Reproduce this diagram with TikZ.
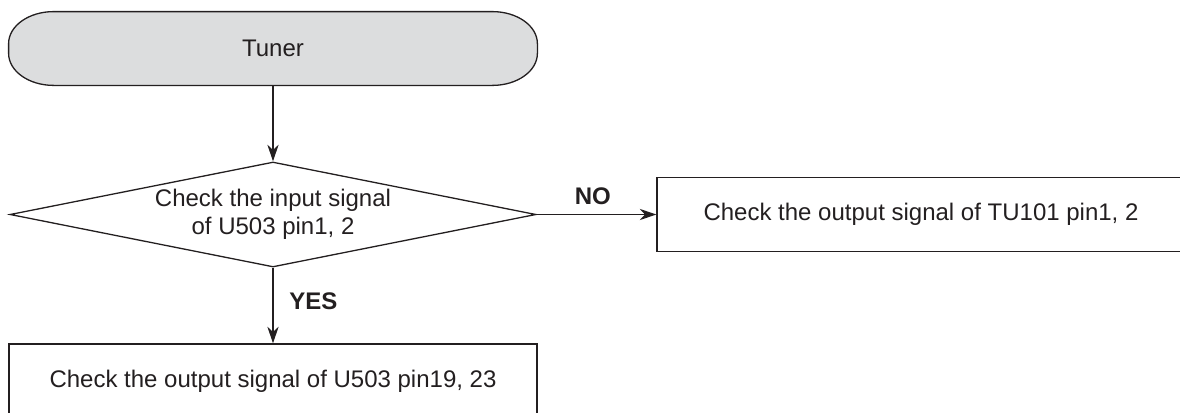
\documentclass[tikz,border=0pt]{standalone}
\usepackage{fontspec}
\setmainfont{Liberation Sans}
\usetikzlibrary{arrows.meta,shapes.geometric,calc,backgrounds}
\definecolor{inkgray}{HTML}{231F20}
\definecolor{capfill}{HTML}{DCDDDE}
\begin{document}
\begin{tikzpicture}[x=0.5pt,y=-0.5pt,
  every node/.style={font=\fontsize{12pt}{14pt}\selectfont, text=inkgray},
  flowline/.style={draw=inkgray, line width=0.65pt},
  flowarrow/.style={flowline, -{Stealth[length=8.3pt,width=5.6pt,inset=2.6pt]}},
  checkbox/.style={flowline, rectangle, minimum width=264pt, minimum height=37pt, inner sep=0pt},
  decision/.style={flowline, diamond, aspect=5, minimum width=263pt, minimum height=52.5pt, inner sep=0pt, align=center},
  answer/.style={font=\fontsize{12pt}{14pt}\selectfont\bfseries}]
\useasboundingbox (0,0) rectangle (1180,413);
\clip (0,0) rectangle (1180,413);

% start terminal: capsule with elliptical ends
\node[minimum width=264pt, minimum height=36.5pt, inner sep=0pt] (tuner) at (273,48.5) {Tuner};
\begin{scope}[on background layer]
  \draw[flowline, fill=capfill]
    ($(tuner.north west)+(45,0)$) -- ($(tuner.north east)+(-45,0)$)
    arc[start angle=90, end angle=0, x radius=22.5pt, y radius=16pt]
    -- ($(tuner.south east)+(0,-32)$)
    arc[start angle=0, end angle=-90, x radius=22.5pt, y radius=16pt]
    -- ($(tuner.south west)+(45,0)$)
    arc[start angle=270, end angle=180, x radius=22.5pt, y radius=16pt]
    -- ($(tuner.north west)+(0,32)$)
    arc[start angle=180, end angle=90, x radius=22.5pt, y radius=16pt]
    -- cycle;
\end{scope}

% decision and the two check steps
\node[decision] (check) at (273,214.5) {Check the input signal\\of U503 pin1, 2};
\node[checkbox] (tu) at (921,214.5) {Check the output signal of TU101 pin1, 2};
\node[checkbox] (out) at (273,381) {Check the output signal of U503 pin19, 23};

% connectors
\draw[flowarrow] (tuner.south) -- (check.north);
\draw[flowarrow] (check.south) -- node[answer, pos=0.44, right=4.5pt] (yes) {YES} (out.north);
\draw[flowarrow] (check.east) -- node[answer, pos=0.47, above=1pt] (no) {NO} (tu.west);
\end{tikzpicture}
\end{document}
